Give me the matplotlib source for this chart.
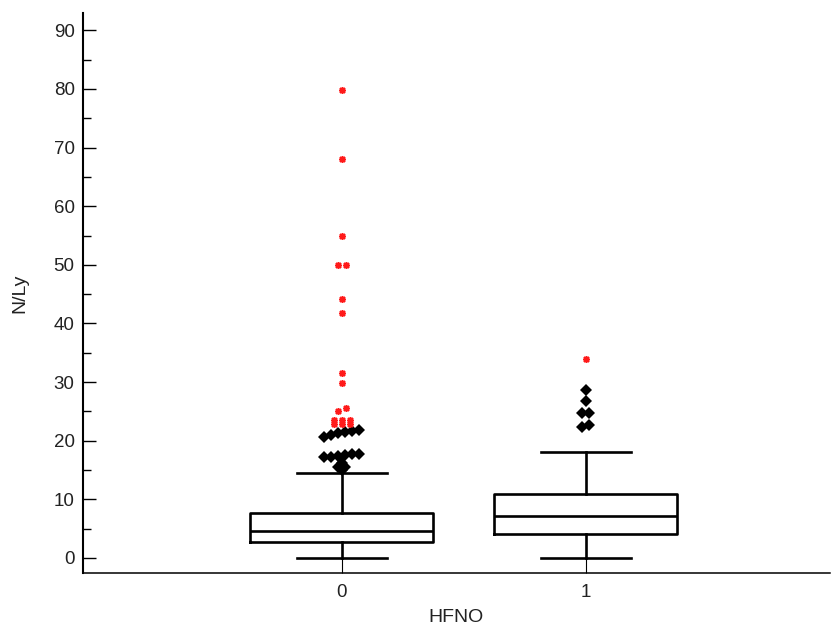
import numpy as np
import matplotlib.pyplot as plt
from matplotlib.ticker import MultipleLocator

plt.rcParams['font.family'] = ['Liberation Sans', 'DejaVu Sans']

groups = ['0', '1']

# box statistics per HFNO group
q1 = [2.8, 4.1]
med = [4.6, 7.2]
q3 = [7.6, 10.85]
whis_lo = [0.0, 0.0]
whis_hi = [14.5, 18.0]

# outside values (beyond 1.5 IQR) and far-out values (beyond 3 IQR)
outside_0 = [21.8, 21.6, 21.5, 21.3, 21.0, 20.7,
             17.8, 17.7, 17.6, 17.4, 17.3, 17.2,
             16.2, 15.6, 15.5, 15.0]
outside_1 = [28.7, 26.7, 24.8, 24.8, 22.7, 22.3]
far_0 = [79.9, 68.1, 54.9, 49.9, 49.9, 44.1, 41.8, 31.5, 29.8,
         25.5, 25.0, 23.6, 23.6, 23.6, 22.8, 22.8, 22.8]
far_1 = [33.9]


def spread(vals, tol, step):
    # put points with nearly equal values side by side
    vals = np.sort(np.asarray(vals, dtype=float))
    offs = np.zeros(len(vals))
    start = 0
    for i in range(1, len(vals) + 1):
        if i == len(vals) or vals[i] - vals[i - 1] > tol:
            n = i - start
            offs[start:i] = (np.arange(n) - (n - 1) / 2) * step
            start = i
    return vals, offs


fig = plt.figure(figsize=(8.33, 6.28), dpi=100)
ax = fig.add_axes([0.0996, 0.0876, 0.8968, 0.8912])

stats = []
for i in range(len(groups)):
    stats.append(dict(med=med[i], q1=q1[i], q3=q3[i],
                      whislo=whis_lo[i], whishi=whis_hi[i], fliers=[]))

lw = 1.9
ax.bxp(stats, positions=[0, 1], widths=0.75, capwidths=0.37,
       showfliers=False, patch_artist=False,
       boxprops=dict(color='black', linewidth=lw),
       medianprops=dict(color='black', linewidth=lw),
       whiskerprops=dict(color='black', linewidth=lw),
       capprops=dict(color='black', linewidth=lw))

for pos, near, far in [(0, outside_0, far_0), (1, outside_1, far_1)]:
    v, o = spread(near, 0.45, 0.0287)
    ax.plot(pos + o, v, 'D', color='black', markersize=6.3,
            markeredgewidth=0, linestyle='none', zorder=3)
    v, o = spread(far, 0.6, 0.033)
    ax.plot(pos + o, v, marker=(8, 2, 0), color='#ff1a1a', markersize=5,
            markeredgewidth=1.1, linestyle='none', zorder=3)

ax.set_xlim(-1.06, 2.0)
ax.set_ylim(-2.56, 92.9)
ax.set_xticks([0, 1])
ax.set_xticklabels(groups)
ax.yaxis.set_major_locator(MultipleLocator(10))
ax.yaxis.set_minor_locator(MultipleLocator(5))

for side in ['top', 'right']:
    ax.spines[side].set_visible(False)
ax.spines['left'].set_linewidth(1.5)
ax.spines['bottom'].set_linewidth(1.1)

ax.tick_params(axis='y', which='major', direction='in', length=9.5,
               width=1, pad=6, labelsize=13.5, labelcolor='#222222')
ax.tick_params(axis='y', which='minor', direction='in', length=6, width=1)
ax.tick_params(axis='x', direction='in', length=11, width=0.8,
               pad=8, labelsize=13.5, labelcolor='#222222')

ax.set_xlabel('HFNO', fontsize=14, color='#222222', labelpad=6)
ax.set_ylabel('N/Ly', fontsize=14, color='#222222', labelpad=18)

fig.savefig('out.png', dpi=100)
